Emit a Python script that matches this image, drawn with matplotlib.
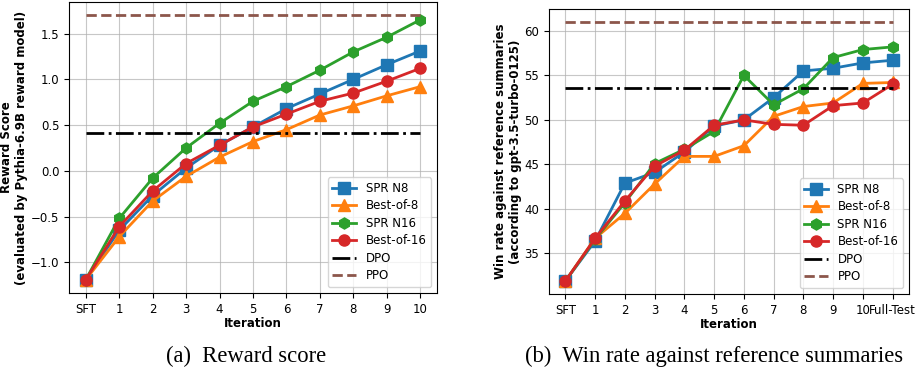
import matplotlib
matplotlib.use("Agg")
import matplotlib.pyplot as plt

# left panel: reward score
it_left = ['SFT', '1', '2', '3', '4', '5', '6', '7', '8', '9', '10']
spr_n8_r = [-1.19, -0.65, -0.27, 0.03, 0.28, 0.48, 0.68, 0.84, 1.00, 1.16, 1.31]
bo8_r = [-1.19, -0.72, -0.33, -0.06, 0.15, 0.32, 0.45, 0.61, 0.71, 0.82, 0.92]
spr_n16_r = [-1.19, -0.52, -0.08, 0.25, 0.52, 0.76, 0.92, 1.10, 1.30, 1.46, 1.65]
bo16_r = [-1.19, -0.61, -0.22, 0.08, 0.28, 0.48, 0.62, 0.76, 0.85, 0.98, 1.12]
dpo_r = 0.41
ppo_r = 1.70

# right panel: win rate
it_right = ['SFT', '1', '2', '3', '4', '5', '6', '7', '8', '9', '10', 'Full-Test']
spr_n8_w = [31.9, 36.4, 42.9, 44.1, 46.4, 49.3, 50.0, 52.5, 55.5, 55.8, 56.4, 56.7]
bo8_w = [31.9, 36.7, 39.5, 42.8, 45.9, 45.9, 47.1, 50.4, 51.5, 51.9, 54.1, 54.2]
spr_n16_w = [31.9, 36.6, 40.7, 45.1, 46.7, 48.7, 55.0, 51.7, 53.5, 57.0, 57.9, 58.2]
bo16_w = [31.9, 36.7, 40.9, 44.8, 46.6, 49.4, 50.0, 49.5, 49.4, 51.6, 51.9, 54.0]
dpo_w = 53.6
ppo_w = 61.0

names = ['SPR N8', 'Best-of-8', 'SPR N16', 'Best-of-16']
markers = ['s', '^', 'h', 'o']
colors = ['tab:blue', 'tab:orange', 'tab:green', 'tab:red']

W, H = 919, 372
fig = plt.figure(figsize=(W / 100, H / 100), dpi=100)
ax1 = fig.add_axes([69 / W, 1 - 293 / H, 368 / W, 291 / H])
ax2 = fig.add_axes([549 / W, 1 - 294 / H, 360 / W, 285 / H])


def panel(ax, labels, series, dpo, ppo, ylabel):
    x = list(range(len(labels)))
    for ys, n, m, c in zip(series, names, markers, colors):
        ax.plot(x, ys, marker=m, color=c, label=n, linewidth=2, markersize=8)
    ax.plot([x[0], x[-1]], [dpo, dpo], color='black', linestyle='-.', linewidth=2, label='DPO')
    ax.plot([x[0], x[-1]], [ppo, ppo], color='tab:brown', linestyle='--', linewidth=2, label='PPO')
    ax.set_xticks(x)
    ax.set_xticklabels(labels)
    ax.tick_params(labelsize=8.5)
    ax.set_xlabel('Iteration', fontsize=8.5, fontweight='bold', labelpad=1)
    ax.set_ylabel(ylabel, fontsize=8.5, fontweight='bold', labelpad=2)
    ax.grid(True, linewidth=0.8, alpha=0.7)
    ax.legend(loc='lower right', fontsize=8.5, labelspacing=0.38)


panel(ax1, it_left, [spr_n8_r, bo8_r, spr_n16_r, bo16_r], dpo_r, ppo_r,
      'Reward Score\n(evaluated by Pythia-6.9B reward model)')
panel(ax2, it_right, [spr_n8_w, bo8_w, spr_n16_w, bo16_w], dpo_w, ppo_w,
      'Win rate against reference summaries\n(according to gpt-3.5-turbo-0125)')

fig.text(246 / W, 1 - 356 / H, '(a)  Reward score', family='Liberation Serif',
         fontsize=16.3, ha='center', va='center')
fig.text(525 / W, 1 - 356 / H, '(b)  Win rate against reference summaries',
         family='Liberation Serif', fontsize=16.3, ha='left', va='center')

fig.savefig('out.png', dpi=100)
